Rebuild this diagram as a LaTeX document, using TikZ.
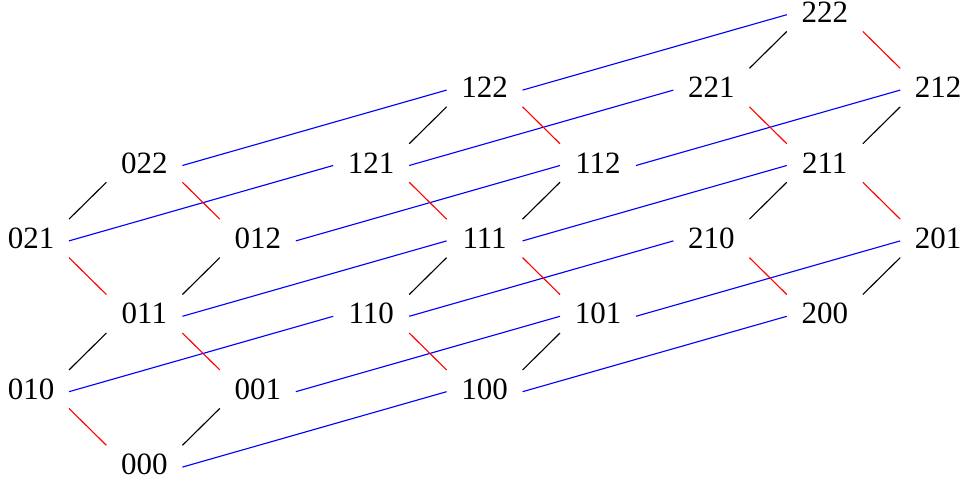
\documentclass[tikz,border=0pt]{standalone}
\usepackage{fontspec}
\setmainfont{Liberation Serif}

\begin{document}
\begin{tikzpicture}[x=45.36pt,y=30.16pt,
  vertex/.style={inner sep=0pt,minimum width=30pt,minimum height=15pt,
    font=\fontsize{12.4}{14}\selectfont},
  aedge/.style={blue,line width=0.45pt},
  bedge/.style={red,line width=0.45pt},
  cedge/.style={black,line width=0.45pt}]
  \useasboundingbox (-1.2734,-0.2971) rectangle (7.2804,6.1618);

  % words abc with |b-c| <= 1
  \foreach \a/\b/\c in {0/0/0,0/1/0,0/0/1,0/1/1,0/2/1,0/1/2,0/2/2,
                         1/0/0,1/1/0,1/0/1,1/1/1,1/2/1,1/1/2,1/2/2,
                         2/0/0,2/1/0,2/0/1,2/1/1,2/2/1,2/1/2,2/2/2}
    \node[vertex] (v\a\b\c) at ({3*\a-\b+\c},{\a+\b+\c}) {\a\b\c};

  % first digit
  \foreach \s/\t in {000/100,100/200,010/110,110/210,001/101,101/201,011/111,
                     111/211,021/121,121/221,012/112,112/212,022/122,122/222}
    \draw[aedge] ([yshift=-1pt]v\s.east) -- ([yshift=-1pt]v\t.west);

  % second digit
  \foreach \s/\t in {000/010,001/011,011/021,012/022,100/110,101/111,
                     111/121,112/122,200/210,201/211,211/221,212/222}
    \draw[bedge] (v\s.north west) -- (v\t.south east);

  % third digit
  \foreach \s/\t in {000/001,010/011,011/012,021/022,100/101,110/111,
                     111/112,121/122,200/201,210/211,211/212,221/222}
    \draw[cedge] (v\s.north east) -- (v\t.south west);
\end{tikzpicture}
\end{document}
